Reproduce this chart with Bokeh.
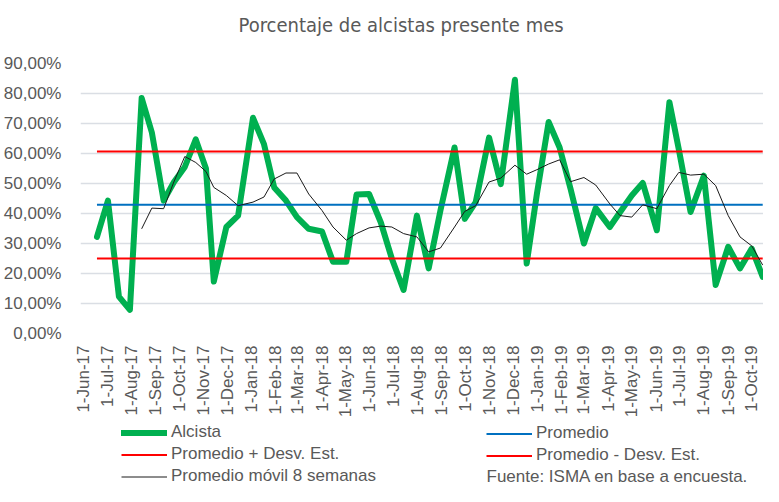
import pandas as pd
from datetime import datetime
from bokeh.plotting import figure
from bokeh.layouts import column
from bokeh.models import Range1d, FixedTicker, Legend, LegendItem, Label, Title
from bokeh.embed import file_html
from bokeh.resources import INLINE

# ---------------- data ----------------
fechas = [
    "2017-06-18", "2017-07-02", "2017-07-16", "2017-07-30", "2017-08-14", "2017-08-27",
    "2017-09-11", "2017-09-24", "2017-10-08", "2017-10-22", "2017-11-04", "2017-11-14",
    "2017-11-30", "2017-12-15", "2018-01-03", "2018-01-17", "2018-01-30", "2018-02-14",
    "2018-02-28", "2018-03-15", "2018-04-01", "2018-04-15", "2018-05-02", "2018-05-15",
    "2018-05-31", "2018-06-15", "2018-06-29", "2018-07-14", "2018-07-31", "2018-08-15",
    "2018-08-30", "2018-09-17", "2018-09-30", "2018-10-14", "2018-10-31", "2018-11-15",
    "2018-12-03", "2018-12-18", "2018-12-31", "2019-01-15", "2019-01-29", "2019-02-12",
    "2019-03-01", "2019-03-16", "2019-04-03", "2019-04-16", "2019-05-01", "2019-05-15",
    "2019-06-02", "2019-06-18", "2019-06-30", "2019-07-15", "2019-08-01", "2019-08-16",
    "2019-09-01", "2019-09-16", "2019-10-01", "2019-10-15",
]
alcista = [
    32.2, 44.3, 12.3, 7.9, 78.5, 67.0,
    44.3, 50.4, 55.5, 64.7, 55.0, 17.3,
    35.5, 39.3, 71.9, 63.1, 48.7, 44.3,
    38.8, 34.9, 34.0, 23.9, 23.9, 46.3,
    46.5, 37.0, 25.0, 14.5, 39.3, 21.7,
    41.0, 62.0, 38.2, 43.8, 65.3, 49.8,
    84.6, 23.3, 46.5, 70.5, 62.0, 48.2,
    30.0, 41.8, 35.5, 40.4, 46.0, 50.2,
    34.4, 77.1, 61.4, 40.5, 52.6, 16.2,
    28.9, 21.7, 28.3, 18.9,
]
# moving average (8 weeks) starts at the 5th observation
movil_inicio = 4
movil_8 = [
    34.9, 41.8, 41.6, 50.5, 59.0, 57.0, 54.0, 48.7,
    46.0, 42.6, 43.8, 45.5, 51.5, 53.5, 53.5, 46.5,
    41.0, 35.5, 31.1, 33.3, 35.2, 35.8, 35.5, 33.3,
    32.2, 27.2, 28.5, 35.5, 40.7, 42.6, 50.5, 51.8,
    56.1, 53.1, 54.6, 56.5, 57.9, 50.6, 52.0, 49.5,
    43.2, 39.3, 38.8, 42.9, 41.6, 49.3, 53.7, 52.8,
    53.1, 49.3, 39.3, 32.2, 29.2, 22.8,
]
promedio = 42.9
prom_mas_desv = 60.7
prom_menos_desv = 25.0

y_ticks = [0, 10, 20, 30, 40, 50, 60, 70, 80, 90]
y_labels = ["0,00%", "10,00%", "20,00%", "30,00%", "40,00%",
            "50,00%", "60,00%", "70,00%", "80,00%", "90,00%"]
x_tick_dates = pd.date_range("2017-06-01", "2019-10-01", freq="MS")
x_labels = [f"{d.day}-{d.strftime('%b-%y')}" for d in x_tick_dates]

# ---------------- styles ----------------
FONT = "Liberation Sans"
GRAY = "#595959"
st_alc = dict(line_color="#00B050", line_width=6, line_join="round", line_cap="round")
st_prom = dict(line_color="#0070C0", line_width=2)
st_red = dict(line_color="#FF0000", line_width=2)
st_mov = dict(line_color="#1a1a1a", line_width=1)

x = pd.to_datetime(fechas)
x_ms = [int(d.value // 10**6) for d in x_tick_dates]
x_rng = Range1d(datetime(2017, 5, 28), datetime(2019, 10, 16))

# ---------------- main chart ----------------
p = figure(width=763, height=420, x_axis_type="datetime",
           x_range=x_rng, y_range=Range1d(0, 90),
           output_backend="svg", toolbar_location=None,
           min_border_left=79, min_border_right=0,
           min_border_top=63, min_border_bottom=85)
p.outline_line_color = None
p.background_fill_color = "white"

p.title.text = "Porcentaje de alcistas presente mes"
p.title.text_font = "DejaVu Sans Condensed"
p.title.text_font_size = "20px"
p.title.text_font_style = "normal"
p.title.text_color = GRAY
p.title.align = "left"
p.title.offset = 158
p.title.standoff = 0
# empty spacer between the title and the plot area
p.add_layout(Title(text=" ", text_font_size="20px", standoff=3), "above")

p.yaxis.ticker = FixedTicker(ticks=y_ticks)
p.yaxis.major_label_overrides = {t: l for t, l in zip(y_ticks, y_labels)}
p.xaxis.ticker = FixedTicker(ticks=x_ms)
p.xaxis.major_label_overrides = {t: l for t, l in zip(x_ms, x_labels)}
p.xaxis.major_label_orientation = 1.5707963
for ax in (p.xaxis[0], p.yaxis[0]):
    ax.axis_line_color = None
    ax.major_tick_line_color = None
    ax.minor_tick_line_color = None
    ax.major_tick_out = 0
    ax.major_tick_in = 0
    ax.major_label_text_font = FONT
    ax.major_label_text_font_size = "17px"
    ax.major_label_text_color = GRAY
p.yaxis.major_label_standoff = 19
p.xaxis.major_label_standoff = 12

p.xgrid.grid_line_color = None
p.ygrid.grid_line_color = "#DADEE4"
p.ygrid.grid_line_width = 1.5

p.line(x, alcista, **st_alc)
p.line(x, [promedio] * len(x), **st_prom)
p.line(x, [prom_mas_desv] * len(x), **st_red)
p.line(x, [prom_menos_desv] * len(x), **st_red)
p.line(x[movil_inicio:], movil_8, **st_mov)

# ---------------- legend strip (series kept out of view, only legend shows) ----------------
q = figure(width=763, height=66, x_axis_type="datetime",
           x_range=x_rng, y_range=Range1d(1000, 1001),
           output_backend="svg", toolbar_location=None,
           x_axis_location=None, y_axis_location=None,
           min_border_left=79, min_border_right=0, min_border_top=0, min_border_bottom=0)
q.outline_line_color = None
q.xgrid.grid_line_color = None
q.ygrid.grid_line_color = None
l_alc = q.line(x, alcista, **st_alc)
l_prom = q.line(x, [promedio] * len(x), **st_prom)
l_mas = q.line(x, [prom_mas_desv] * len(x), **st_red)
l_menos = q.line(x, [prom_menos_desv] * len(x), **st_red)
l_mov = q.line(x[movil_inicio:], movil_8, **st_mov)

leg_style = dict(orientation="vertical", glyph_width=46, glyph_height=19,
                 label_height=19, label_standoff=4, spacing=2, padding=0, margin=0,
                 border_line_alpha=0, background_fill_alpha=0,
                 label_text_font=FONT, label_text_font_size="17px",
                 label_text_color=GRAY)
leg_a = Legend(items=[
    LegendItem(label="Alcista", renderers=[l_alc]),
    LegendItem(label="Promedio + Desv. Est.", renderers=[l_mas]),
    LegendItem(label="Promedio móvil 8 semanas", renderers=[l_mov]),
], location=(41, 0), **leg_style)
leg_b = Legend(items=[
    LegendItem(label="Promedio", renderers=[l_prom]),
    LegendItem(label="Promedio - Desv. Est.", renderers=[l_menos]),
], location=(406, 21), **leg_style)
q.add_layout(leg_a)
q.add_layout(leg_b)

q.add_layout(Label(x=406, y=10, x_units="screen", y_units="screen",
                   text="Fuente: ISMA en base a encuesta.", text_font=FONT,
                   text_font_size="17px", text_color=GRAY, text_baseline="middle"))

open("out.html", "w").write(file_html(column(p, q, spacing=0), INLINE))
